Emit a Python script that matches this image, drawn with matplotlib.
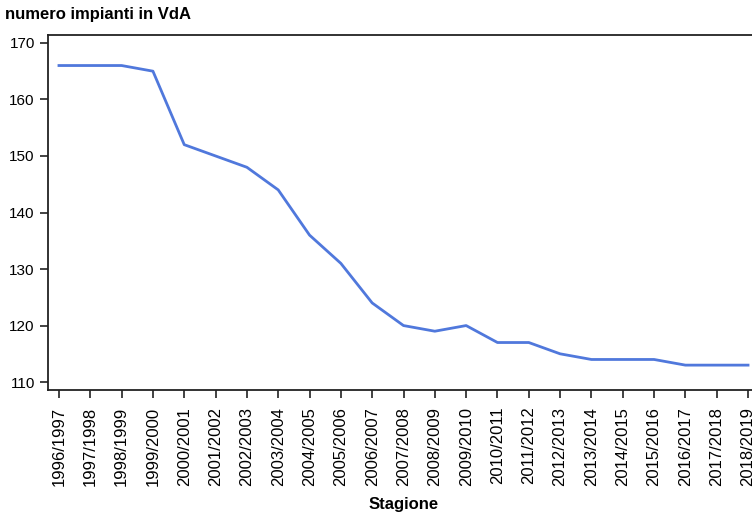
import matplotlib
matplotlib.use("Agg")
import matplotlib.pyplot as plt

seasons = ["1996/1997", "1997/1998", "1998/1999", "1999/2000", "2000/2001", "2001/2002",
           "2002/2003", "2003/2004", "2004/2005", "2005/2006", "2006/2007", "2007/2008",
           "2008/2009", "2009/2010", "2010/2011", "2011/2012", "2012/2013", "2013/2014",
           "2014/2015", "2015/2016", "2016/2017", "2017/2018", "2018/2019"]
impianti = [166, 166, 166, 165, 152, 150, 148, 144, 136, 131, 124, 120,
            119, 120, 117, 117, 115, 114, 114, 114, 113, 113, 113]
yticks = [110, 120, 130, 140, 150, 160, 170]

plt.rcParams['font.family'] = ['Liberation Sans', 'DejaVu Sans']

fig = plt.figure(figsize=(7.52, 5.13), dpi=100)
ax = fig.add_axes([48/752, 1-390/513, (759-48)/752, (390-35)/513])
x = list(range(len(seasons)))
ax.plot(x, impianti, color='#5078dc', lw=2)
ax.set_xlim(-0.35, len(seasons)-1+0.35)
ax.set_ylim(108.6, 171.4)
ax.set_yticks(yticks)
ax.set_xticks(x)
ax.set_xticklabels(seasons, rotation=90, fontsize=12)
ax.tick_params(axis='y', labelsize=11, length=6, width=1.2, color='#222222')
ax.tick_params(axis='x', length=6, width=1.2, color='#222222', pad=6)
for s in ['left', 'bottom', 'top']:
    ax.spines[s].set_linewidth(1.3)
    ax.spines[s].set_color('#222222')
ax.spines['right'].set_visible(False)
ax.set_xlabel('Stagione', fontsize=12, fontweight='bold', labelpad=8)
fig.text(5/752, 1-15/513, 'numero impianti in VdA', fontsize=12, fontweight='bold',
         va='center', ha='left')
fig.savefig('out.png', dpi=100)
